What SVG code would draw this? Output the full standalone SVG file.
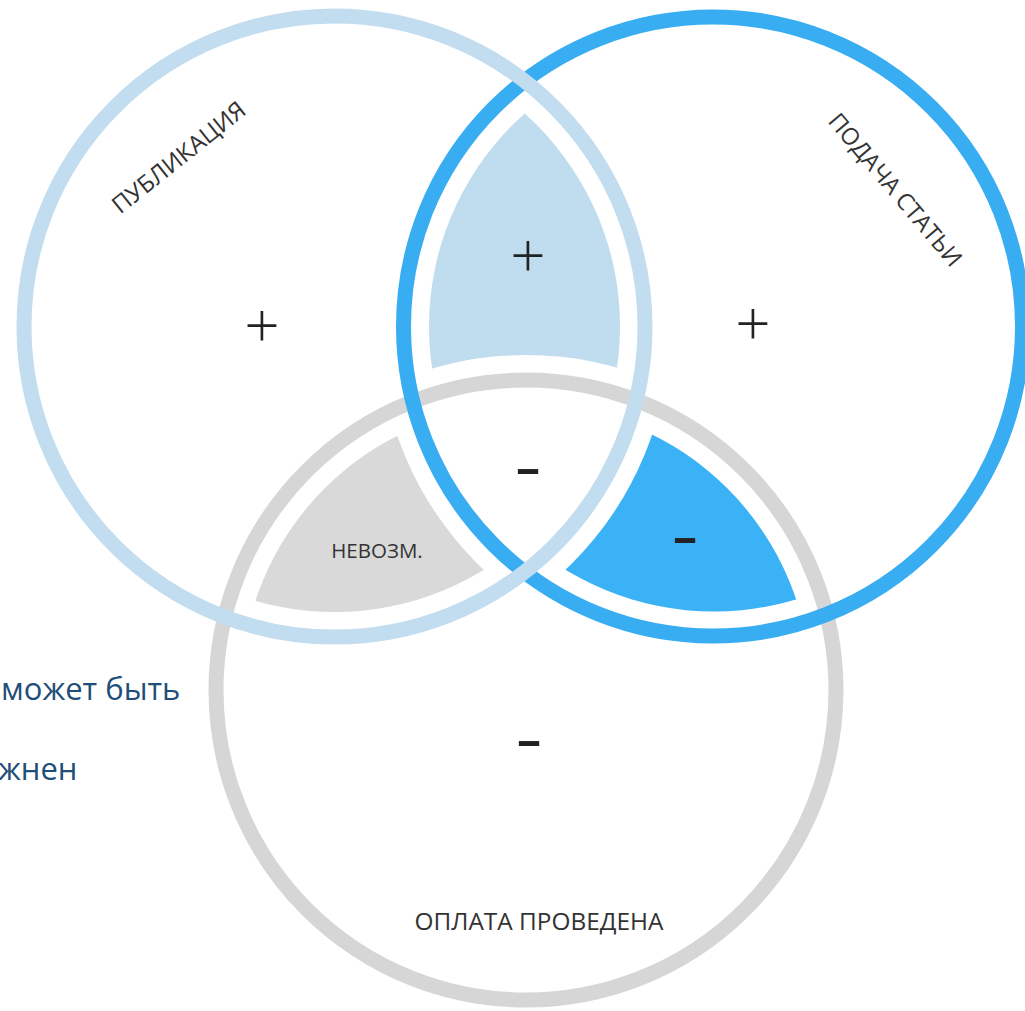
<svg xmlns="http://www.w3.org/2000/svg" width="1025" height="1011" viewBox="0 0 1025 1011">
<style>
.lbl{font-family:"Open Sans","Noto Sans",sans-serif;fill:#333;}
.sign{font-family:"Open Sans","Noto Sans",sans-serif;fill:#222;text-anchor:middle;}
.dash{font-family:"Open Sans","Noto Sans",sans-serif;fill:#222;text-anchor:middle;font-size:50px;font-weight:600;}
.side{font-family:"Open Sans","Noto Sans",sans-serif;fill:#1f4e79;font-size:31px;}
.ring{fill:none;stroke-width:15;}
</style>
<defs>
<clipPath id="in1"><circle cx="334.5" cy="326.5" r="285.5"/></clipPath>
<clipPath id="in2"><circle cx="714" cy="326.5" r="285"/></clipPath>
<clipPath id="in3"><circle cx="526" cy="690" r="285"/></clipPath>
<mask id="out1" maskUnits="userSpaceOnUse" x="0" y="0" width="1025" height="1011"><rect width="1025" height="1011" fill="#fff"/><circle cx="334.5" cy="326.5" r="335.5" fill="#000"/></mask>
<mask id="out2" maskUnits="userSpaceOnUse" x="0" y="0" width="1025" height="1011"><rect width="1025" height="1011" fill="#fff"/><circle cx="714" cy="326.5" r="335" fill="#000"/></mask>
<mask id="out3" maskUnits="userSpaceOnUse" x="0" y="0" width="1025" height="1011"><rect width="1025" height="1011" fill="#fff"/><circle cx="526" cy="690" r="335" fill="#000"/></mask>
</defs>
<rect width="1025" height="1011" fill="#fff"/>

<g id="region-pub-sub">
<g clip-path="url(#in1)"><circle cx="714" cy="326.5" r="285" fill="#c0dcef" mask="url(#out3)"/></g>
</g>
<g id="region-pub-pay">
<g clip-path="url(#in1)"><circle cx="526" cy="690" r="285" fill="#d9d9d9" mask="url(#out2)"/></g>
</g>
<g id="region-sub-pay">
<g clip-path="url(#in2)"><circle cx="526" cy="690" r="285" fill="#3bb2f6" mask="url(#out1)"/></g>
</g>

<g id="circle-payment">
<circle class="ring" cx="526" cy="690" r="310" stroke="#d6d6d6" stroke-width="16"/>
</g>
<g id="circle-submission">
<circle class="ring" cx="713" cy="326.5" r="309.5" stroke="#38adf2"/>
</g>
<g id="circle-publication">
<circle class="ring" cx="334.5" cy="326.5" r="310.5" stroke="#c2ddef"/>
</g>

<g id="labels">
<text class="lbl" font-size="24" text-anchor="middle" transform="translate(184,164) rotate(-38.6)">ПУБЛИКАЦИЯ</text>
<text class="lbl" font-size="23.5" text-anchor="middle" transform="translate(889,195) rotate(49.8)">ПОДАЧА СТАТЬИ</text>
<text class="lbl" font-size="24.4" text-anchor="middle" x="539" y="930">ОПЛАТА ПРОВЕДЕНА</text>
<text class="lbl" font-size="20.5" text-anchor="middle" x="377" y="558">НЕВОЗМ.</text>
</g>

<g id="signs">
<text class="sign" font-size="62" font-weight="300" x="262" y="348">+</text>
<text class="sign" font-size="62" font-weight="300" x="528" y="278">+</text>
<text class="sign" font-size="62" font-weight="300" x="753" y="346">+</text>
<text class="dash" x="528" y="485" textLength="26" lengthAdjust="spacingAndGlyphs">-</text>
<text class="dash" x="685" y="554" fill="#0b2d5c" textLength="26" lengthAdjust="spacingAndGlyphs">-</text>
<text class="dash" x="529" y="757" textLength="26" lengthAdjust="spacingAndGlyphs">-</text>
</g>

<g id="side-text">
<text class="side" x="1" y="700">может быть</text>
<text class="side" x="-2" y="780">жнен</text>
</g>
</svg>
